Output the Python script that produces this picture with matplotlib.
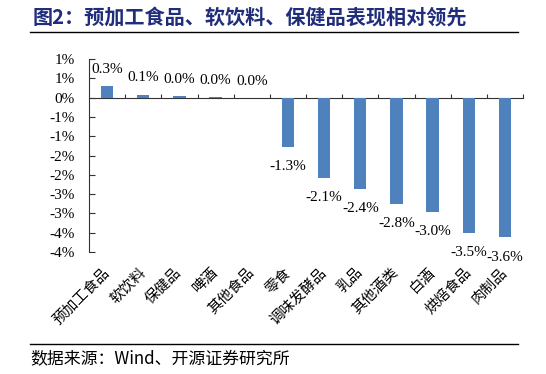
import matplotlib
matplotlib.use("Agg")
import matplotlib.pyplot as plt
from matplotlib.lines import Line2D

categories = ["预加工食品", "软饮料", "保健品", "啤酒", "其他食品", "零食",
              "调味发酵品", "乳品", "其他酒类", "白酒", "烘焙食品", "肉制品"]
values = [0.31, 0.08, 0.04, 0.02, 0.0, -1.27, -2.07, -2.36, -2.75, -2.95, -3.5, -3.62]
value_labels = ["0.3%", "0.1%", "0.0%", "0.0%", "0.0%", "-1.3%", "-2.1%",
                "-2.4%", "-2.8%", "-3.0%", "-3.5%", "-3.6%"]
y_ticks = [1.0, 0.5, 0.0, -0.5, -1.0, -1.5, -2.0, -2.5, -3.0, -3.5, -4.0]
y_tick_labels = ["1%", "1%", "0%", "-1%", "-1%", "-2%", "-2%", "-3%", "-3%", "-4%", "-4%"]

title = "图2：预加工食品、软饮料、保健品表现相对领先"
source = "数据来源：Wind、开源证券研究所"

CJK = ["Noto Sans CJK SC", "DejaVu Sans"]
SERIF = ["Liberation Serif", "DejaVu Serif"]
BAR = "#4f81bd"

fig = plt.figure(figsize=(5.46, 3.74), dpi=100)
ax = fig.add_axes([0.163, 0.326, 0.795, 0.516])

x = list(range(len(categories)))
ax.bar(x, values, width=0.34, color=BAR, zorder=2)
ax.set_xlim(-0.5, len(categories) - 0.5)
ax.set_ylim(min(y_ticks), max(y_ticks))

for s in ["top", "right", "bottom"]:
    ax.spines[s].set_visible(False)
ax.spines["left"].set_linewidth(0.8)
ax.spines["left"].set_color("#333333")

ax.set_yticks(y_ticks)
ax.set_yticklabels(y_tick_labels, fontfamily=SERIF, fontsize=11)
ax.tick_params(axis="y", direction="in", length=4, width=0.8, pad=10, color="#333333")

ax.set_xticks(x)
ax.set_xticklabels(categories, fontfamily=CJK, fontsize=10.5, rotation=45,
                   ha="right", va="center", rotation_mode="anchor")
ax.tick_params(axis="x", length=0, pad=13)

# zero line with boundary ticks
frac0 = (0 - min(y_ticks)) / (max(y_ticks) - min(y_ticks))
sec = ax.secondary_xaxis(frac0)
sec.set_xticks([i + 0.5 for i in x])
sec.tick_params(axis="x", which="both", direction="in", length=3, width=0.8,
                bottom=True, top=False, labelbottom=False, labeltop=False,
                color="#333333")
for s in sec.spines.values():
    s.set_linewidth(0.8)
    s.set_color("#333333")

for xi, v, lab in zip(x, values, value_labels):
    if v >= 0:
        ax.annotate(lab, (xi, v), xytext=(0, 12), textcoords="offset points",
                    ha="center", va="center", fontfamily=SERIF, fontsize=11)
    else:
        ax.annotate(lab, (xi, v), xytext=(0, -14.5), textcoords="offset points",
                    ha="center", va="center", fontfamily=SERIF, fontsize=11)

fig.text(0.06, 0.955, title, fontfamily=CJK, fontsize=14.5, fontweight="bold",
         color="#1f2d7b", ha="left", va="center")
fig.add_artist(Line2D([0.055, 0.948], [0.914, 0.914], transform=fig.transFigure,
                      color="black", lw=1.0))
fig.add_artist(Line2D([0.055, 0.948], [0.08, 0.08], transform=fig.transFigure,
                      color="black", lw=1.0))
fig.text(0.056, 0.043, source, fontfamily=CJK + ["Liberation Serif"], fontsize=12.2,
         ha="left", va="center")

fig.savefig("out.png", dpi=100)
